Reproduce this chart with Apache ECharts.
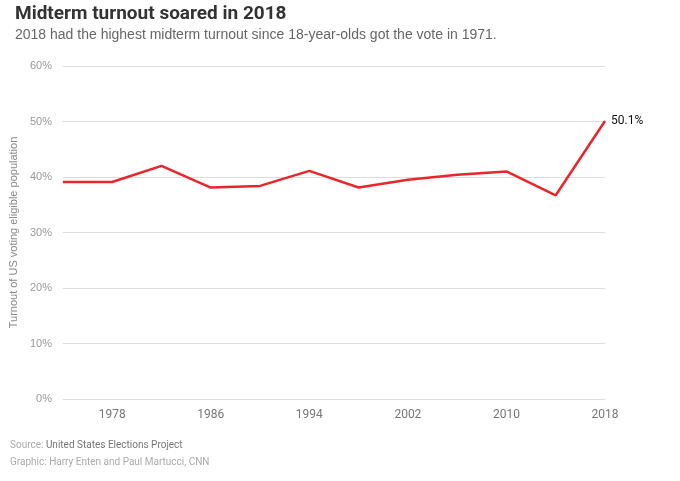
<!DOCTYPE html>
<html><head><meta charset="utf-8">
<script src="https://cdn.jsdelivr.net/npm/echarts@6/dist/echarts.min.js"></script>
<style>html,body{margin:0;padding:0;background:#fff}#c{width:680px;height:481px}</style>
</head><body><div id="c"></div>
<script>
const years = ['1974','1978','1982','1986','1990','1994','1998','2002','2006','2010','2014','2018'];
const turnout = [39.1, 39.1, 42.0, 38.1, 38.4, 41.1, 38.1, 39.5, 40.4, 41.0, 36.7, 50.1];
const yTicks = [0, 10, 20, 30, 40, 50, 60];
const titleText = 'Midterm turnout soared in 2018';
const subtitleText = '2018 had the highest midterm turnout since 18-year-olds got the vote in 1971.';
const yAxisName = 'Turnout of US voting eligible population';

const chart = echarts.init(document.getElementById('c'));
chart.setOption({
  animation: false,
  backgroundColor: '#fff',
  title: [
    {text: titleText, left: 10, top: 0,
     textStyle: {fontFamily: 'Roboto', fontWeight: 'bold', fontSize: 19, color: '#333'}},
    {text: subtitleText, left: 10, top: 23,
     textStyle: {fontFamily: 'Liberation Sans', fontWeight: 'normal', fontSize: 14, color: '#666'}}
  ],
  graphic: [
    {type: 'text', left: 10, top: 440, style: {
      text: '{a|Source: }{b|United States Elections Project}',
      rich: {a: {fontFamily: 'Roboto', fontSize: 10, fill: '#aaa'}, b: {fontFamily: 'Roboto', fontSize: 10, fill: '#777'}}}},
    {type: 'text', left: 10, top: 457, style: {
      text: 'Graphic: Harry Enten and Paul Martucci, CNN',
      fontFamily: 'Roboto', fontSize: 10, fill: '#aaa'}}
  ],
  grid: {left: 61, right: 75, top: 66, bottom: 82},
  xAxis: {
    type: 'category', data: years, boundaryGap: false,
    axisLine: {show: false}, axisTick: {show: false},
    axisLabel: {interval: (i) => i % 2 === 1, color: '#777', fontSize: 12, margin: 10,
      fontFamily: 'Roboto'},
    splitLine: {show: false}
  },
  yAxis: {
    type: 'value', min: 0, max: 60, interval: 10,
    name: yAxisName, nameLocation: 'middle', nameGap: 37,
    nameTextStyle: {color: '#888', fontSize: 11, fontFamily: 'Liberation Sans'},
    axisLine: {show: false}, axisTick: {show: false},
    axisLabel: {formatter: '{value}%', color: '#999', fontSize: 11, margin: 11, fontFamily: 'Liberation Sans'},
    splitLine: {lineStyle: {color: '#ddd', width: 1}}
  },
  series: [{
    type: 'line', data: turnout, symbol: 'none',
    lineStyle: {color: '#e8262b', width: 2.5},
    itemStyle: {color: '#e8262b'},
    endLabel: {show: true, formatter: (p) => p.value + '%', color: '#111', fontSize: 12,
      fontFamily: 'Roboto', offset: [-2, 0]}
  }]
});
</script></body></html>
